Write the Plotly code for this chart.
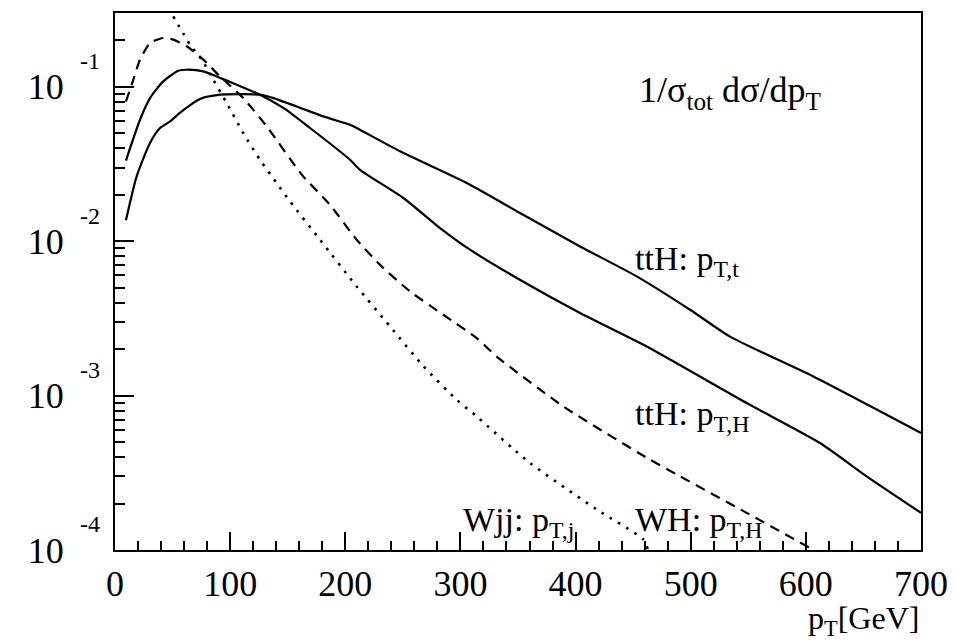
import plotly.graph_objects as go

# ---------------- data ----------------
tth_t_pt = [9.5, 18.8, 30.4, 39.1, 47.8, 57.9, 73.8, 91.2, 111.4, 125.9, 137.5, 157.8,
            180.9, 204.1, 209.9, 247.5, 305.5, 351.7, 403.9, 453.1, 499.4, 534.1, 606.5, 700]
tth_t_val = [0.01365, 0.0263, 0.0433, 0.0541, 0.0597, 0.0693, 0.0834, 0.0889, 0.0897, 0.0889,
             0.0845, 0.0746, 0.0643, 0.0568, 0.0541, 0.0382, 0.0238, 0.01524, 0.00925, 0.00592,
             0.00360, 0.00241, 0.00133, 0.000573]

tth_h_pt = [9.5, 21.7, 30.4, 41.9, 55.0, 62.3, 76.7, 88.3, 105.7, 125.9, 146.2, 169.4, 204.1,
            212.8, 250.4, 282.3, 308.3, 348.9, 403.9, 461.8, 548.6, 612.3, 652.8, 700]
tth_h_val = [0.0333, 0.0612, 0.0845, 0.1084, 0.127, 0.129, 0.126, 0.1167, 0.1032, 0.0889,
             0.0730, 0.0541, 0.0337, 0.0290, 0.01905, 0.01216, 0.00881, 0.00578, 0.00343,
             0.00208, 0.000895, 0.000493, 0.000300, 0.000174]

wh_pt = [9.5, 15.9, 21.7, 30.4, 41.9, 50.6, 62.3, 76.7, 91.2, 111.4, 131.7, 162.2, 186.7,
         209.9, 231.6, 256.2, 285.1, 314.1, 331.5, 389.4, 464.6, 490.7, 548.6, 603.6]
wh_val = [0.0803, 0.111, 0.150, 0.192, 0.207, 0.202, 0.183, 0.150, 0.1167, 0.0845, 0.0555,
          0.0270, 0.0172, 0.01023, 0.00687, 0.00473, 0.00334, 0.00236, 0.00179, 0.000851,
          0.000385, 0.000300, 0.000174, 0.000103]

wjj_pt = [50.6, 65.1, 75.3, 85.4, 97.0, 111.4, 125.9, 140.4, 152.0, 178.0, 209.9, 238.8,
          267.8, 296.8, 314.1, 360.4, 418.4, 458.8, 463.0]
wjj_val = [0.286, 0.1875, 0.150, 0.111, 0.0785, 0.0502, 0.0337, 0.0238, 0.0181, 0.01023,
           0.00509, 0.00281, 0.00155, 0.000939, 0.000733, 0.000366, 0.000183, 0.000117, 0.0001]

x_ticks = [0, 100, 200, 300, 400, 500, 600, 700]
x_ticklabels = ["0", "100", "200", "300", "400", "500", "600", "700"]
y_ticks = [1e-4, 1e-3, 1e-2, 1e-1]
y_base_labels = ["10", "10", "10", "10"]
y_exp_labels = ["-4", "-3", "-2", "-1"]
y_minor = [k * 10 ** d for d in (-4, -3, -2, -1) for k in range(2, 10) if k * 10 ** d < 0.295]

# ---------------- layout geometry ----------------
W, H = 974, 640
L, R, T, B = 115, 53, 13, 90
pw, ph = W - L - R, H - T - B
FONT = "Liberation Serif, Times New Roman, serif"


def px(xp):
    return (xp - L) / pw


def py(yp):
    return (H - B - yp) / ph


fig = go.Figure()
common = dict(mode="lines", line_shape="spline", showlegend=False, hoverinfo="skip")
fig.add_trace(go.Scatter(x=tth_t_pt, y=tth_t_val, line=dict(color="black", width=2.2, smoothing=0.6), **common))
fig.add_trace(go.Scatter(x=tth_h_pt, y=tth_h_val, line=dict(color="black", width=2.2, smoothing=0.6), **common))
fig.add_trace(go.Scatter(x=wh_pt, y=wh_val, line=dict(color="black", width=2.2, dash="10px,7px", smoothing=0.6), **common))
fig.add_trace(go.Scatter(x=wjj_pt, y=wjj_val, line=dict(color="black", width=2.6, dash="2.6px,7px", smoothing=0.6), **common))
# invisible trace to activate the exponent axis
fig.add_trace(go.Scatter(x=[None], y=[None], yaxis="y2", showlegend=False, hoverinfo="skip"))

fig.update_layout(
    width=W, height=H,
    margin=dict(l=L, r=R, t=T, b=B, pad=0),
    paper_bgcolor="white", plot_bgcolor="white",
    font=dict(family=FONT, color="black", size=34),
    xaxis=dict(
        range=[0, 700], showgrid=False, zeroline=False,
        showline=True, linecolor="black", linewidth=2, mirror=True,
        ticks="inside", ticklen=18, tickwidth=1.5, tickcolor="black",
        tickvals=x_ticks, ticktext=x_ticklabels,
        tickfont=dict(family=FONT, size=36, color="black"),
        ticklabelstandoff=1,
        minor=dict(ticks="inside", ticklen=9, tickwidth=1.5, tickcolor="black", dtick=20, tick0=0, showgrid=False),
    ),
    yaxis=dict(
        type="log", range=[-4, -0.522], showgrid=False, zeroline=False,
        showline=True, linecolor="black", linewidth=2, mirror=True,
        ticks="inside", ticklen=19, tickwidth=1.5, tickcolor="black",
        tickvals=y_ticks, ticktext=y_base_labels,
        tickfont=dict(family=FONT, size=36, color="black"),
        ticklabelstandoff=42,
        minor=dict(ticks="inside", ticklen=10, tickwidth=1.5, tickcolor="black", tickvals=y_minor, showgrid=False),
    ),
    yaxis2=dict(
        type="log", range=[-4, -0.522], overlaying="y", side="left",
        showgrid=False, zeroline=False, showline=False, ticks="",
        tickvals=y_ticks, ticktext=y_exp_labels,
        tickfont=dict(family=FONT, size=24, color="black"),
        ticklabelstandoff=14, ticklabelshift=-26,
    ),
)

ann = [
    ("1/σ<sub>tot</sub> dσ/dp<sub>T</sub>", 637, 92, "left", 36),
    ("ttH: p<sub>T,t</sub>", 633, 261, "left", 34),
    ("ttH: p<sub>T,H</sub>", 633, 416, "left", 34),
    ("WH: p<sub>T,H</sub>", 633, 522, "left", 34),
    ("Wjj: p<sub>T,j</sub>", 461, 522, "left", 34),
    ("p<sub>T</sub>[GeV]", 921, 620, "right", 32),
]
for text, xp_, yp_, xa, fs in ann:
    fig.add_annotation(text=text, xref="paper", yref="paper", x=px(xp_), y=py(yp_),
                       xanchor=xa, yanchor="middle", showarrow=False,
                       font=dict(family=FONT, size=fs, color="black"))

fig.write_html("out.html")
